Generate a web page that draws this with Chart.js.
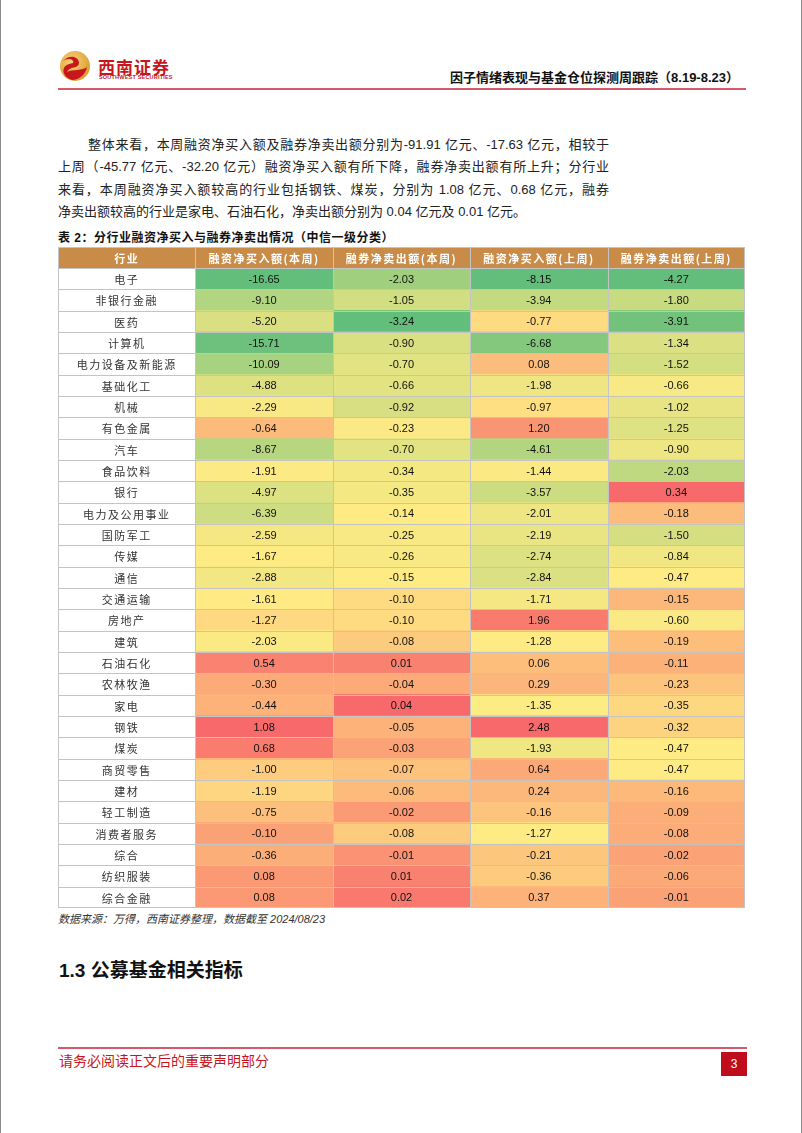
<!DOCTYPE html>
<html lang="zh-CN">
<head>
<meta charset="utf-8">
<title>分行业融资净买入与融券净卖出情况</title>
<script src="https://cdn.jsdelivr.net/npm/chart.js@4.4.1/dist/chart.umd.min.js"></script>
<style>
    html, body { margin: 0; padding: 0; background: #fff; }
    #page {
        position: relative; width: 800px; height: 1133px; overflow: hidden;
        border-left: 1px solid #8a8a8a; border-right: 1px solid #8a8a8a;
        font-family: "Liberation Sans", "Noto Sans CJK SC", sans-serif; color: #222;
    }
    .abs { position: absolute; white-space: nowrap; }
    .para { left: 57px; width: 551px; font-size: 13px; line-height: 22px; }
    .just { text-align: justify; text-align-last: justify; }
</style>
</head>
<body>
<div id="page">
    <!-- logo -->
    <svg class="abs" style="left:58px;top:50px" width="32" height="32" viewBox="0 0 32 32">
        <defs>
            <radialGradient id="gold" cx="40%" cy="35%" r="70%">
                <stop offset="0" stop-color="#f6d27a"/>
                <stop offset="1" stop-color="#d99a2b"/>
            </radialGradient>
        </defs>
        <circle cx="16" cy="16" r="15" fill="url(#gold)"/>
        <path d="M4 11 C10 4, 20 6, 20 13 C20 19, 10 16, 8 22 C13 19, 24 21, 28 17 C27 24, 20 30, 13 30 C6 28, 3 22, 5 18 C8 12, 16 15, 14 11 C12 8, 7 9, 4 11 Z" fill="#c8161d"/>
    </svg>
    <div class="abs" style="left:97px;top:54px;font-size:17px;font-weight:bold;color:#c8161d;letter-spacing:1px;font-family:'Noto Sans CJK SC'">西南证券</div>
    <div class="abs" style="left:98px;top:74px;font-size:5.5px;font-weight:bold;color:#c8161d;letter-spacing:0.2px">SOUTHWEST SECURITIES</div>
    <div class="abs" style="right:62px;top:67px;font-size:13px;font-weight:bold;color:#111">因子情绪表现与基金仓位探测周跟踪（8.19-8.23）</div>
    <div class="abs" style="left:57px;top:88px;width:688px;height:2px;background:#d6596b"></div>

    <!-- paragraph -->
    <div class="abs para just" style="top:134px;left:87px;width:521px">整体来看，本周融资净买入额及融券净卖出额分别为-91.91 亿元、-17.63 亿元，相较于</div>
    <div class="abs para just" style="top:156px">上周（-45.77 亿元、-32.20 亿元）融资净买入额有所下降，融券净卖出额有所上升；分行业</div>
    <div class="abs para just" style="top:179px">来看，本周融资净买入额较高的行业包括钢铁、煤炭，分别为 1.08 亿元、0.68 亿元，融券</div>
    <div class="abs para" style="top:201px">净卖出额较高的行业是家电、石油石化，净卖出额分别为 0.04 亿元及 0.01 亿元。</div>

    <div class="abs" style="left:57px;top:228px;font-size:12px;font-weight:bold;color:#111;letter-spacing:0.5px">表 2：分行业融资净买入与融券净卖出情况（中信一级分类）</div>

    <canvas id="tableChart" class="abs" style="left:57px;top:247px" width="687" height="661"></canvas>

    <div class="abs" style="left:57px;top:910px;font-size:11px;font-style:italic;color:#333">数据来源：万得，西南证券整理，数据截至 2024/08/23</div>

    <div class="abs" style="left:58px;top:955px;font-size:19px;font-weight:bold;color:#111">1.3 公募基金相关指标</div>

    <!-- footer -->
    <div class="abs" style="left:57px;top:1047px;width:689px;height:2px;background:#d6596b"></div>
    <div class="abs" style="left:58px;top:1050px;font-size:14px;color:#c8161d">请务必阅读正文后的重要声明部分</div>
    <div class="abs" style="left:720px;top:1052px;width:26px;height:24px;background:#c00d1e;color:#fff;font-size:12px;line-height:24px;text-align:center">3</div>
</div>

<script>
    // Industries (中信一级) in table order
    const industries = ["电子", "非银行金融", "医药", "计算机", "电力设备及新能源", "基础化工", "机械", "有色金属",
        "汽车", "食品饮料", "银行", "电力及公用事业", "国防军工", "传媒", "通信", "交通运输", "房地产", "建筑",
        "石油石化", "农林牧渔", "家电", "钢铁", "煤炭", "商贸零售", "建材", "轻工制造", "消费者服务", "综合",
        "纺织服装", "综合金融"];

    const columnTitles = ["行业", "融资净买入额(本周)", "融券净卖出额(本周)", "融资净买入额(上周)", "融券净卖出额(上周)"];

    // values in 亿元
    const marginBuyThisWeek = [-16.65, -9.10, -5.20, -15.71, -10.09, -4.88, -2.29, -0.64, -8.67, -1.91, -4.97, -6.39,
        -2.59, -1.67, -2.88, -1.61, -1.27, -2.03, 0.54, -0.30, -0.44, 1.08, 0.68, -1.00, -1.19, -0.75, -0.10, -0.36, 0.08, 0.08];
    const shortSellThisWeek = [-2.03, -1.05, -3.24, -0.90, -0.70, -0.66, -0.92, -0.23, -0.70, -0.34, -0.35, -0.14,
        -0.25, -0.26, -0.15, -0.10, -0.10, -0.08, 0.01, -0.04, 0.04, -0.05, -0.03, -0.07, -0.06, -0.02, -0.08, -0.01, 0.01, 0.02];
    const marginBuyLastWeek = [-8.15, -3.94, -0.77, -6.68, 0.08, -1.98, -0.97, 1.20, -4.61, -1.44, -3.57, -2.01,
        -2.19, -2.74, -2.84, -1.71, 1.96, -1.28, 0.06, 0.29, -1.35, 2.48, -1.93, 0.64, 0.24, -0.16, -1.27, -0.21, -0.36, 0.37];
    const shortSellLastWeek = [-4.27, -1.80, -3.91, -1.34, -1.52, -0.66, -1.02, -1.25, -0.90, -2.03, 0.34, -0.18,
        -1.50, -0.84, -0.47, -0.15, -0.60, -0.19, -0.11, -0.23, -0.35, -0.32, -0.47, -0.47, -0.16, -0.09, -0.08, -0.02, -0.06, -0.01];

    const valueColumns = [marginBuyThisWeek, shortSellThisWeek, marginBuyLastWeek, shortSellLastWeek];

    // Excel-style 3 colour scale: min green, median yellow, max red
    const GREEN = [99, 190, 123], YELLOW = [255, 235, 132], RED = [248, 105, 107];

    function mix(a, b, t) {
        return "rgb(" + a.map((c, i) => Math.round(c + (b[i] - c) * t)).join(",") + ")";
    }

    function median(arr) {
        const s = [...arr].sort((a, b) => a - b);
        const m = s.length / 2;
        return s.length % 2 ? s[Math.floor(m)] : (s[m - 1] + s[m]) / 2;
    }

    function colorsFor(arr) {
        const min = Math.min(...arr), max = Math.max(...arr), mid = median(arr);
        return arr.map((v) => {
            if (v <= mid) return mix(GREEN, YELLOW, mid === min ? 1 : (v - min) / (mid - min));
            return mix(YELLOW, RED, (v - mid) / (max - mid));
        });
    }

    const HEADER_H = 21;

    // header row, grid lines and cell texts
    const tablePlugin = {
        id: "tablePlugin",
        afterDatasetsDraw(chart) {
            const { ctx, chartArea, scales } = chart;
            const xs = scales.x, ys = scales.y;
            const rowH = (chartArea.bottom - chartArea.top) / industries.length;
            const colX = columnTitles.map((_, k) => xs.getPixelForValue(k));
            colX.push(xs.getPixelForValue(columnTitles.length));
            const al = (v) => Math.round(v) + 0.5;

            // header
            ctx.save();
            ctx.fillStyle = "#c98c48";
            ctx.fillRect(chartArea.left, 0, chartArea.right - chartArea.left, chartArea.top);

            // grid
            ctx.strokeStyle = "#c4c4c4";
            ctx.lineWidth = 1;
            ctx.beginPath();
            colX.forEach((x, k) => {
                const px = k === colX.length - 1 ? Math.round(x) - 0.5 : al(x);
                ctx.moveTo(px, 0);
                ctx.lineTo(px, chartArea.bottom);
            });
            ctx.moveTo(chartArea.left, 0.5);
            ctx.lineTo(chartArea.right, 0.5);
            for (let i = 0; i <= industries.length; i++) {
                let y = chartArea.top + i * rowH;
                y = i === industries.length ? Math.round(y) - 0.5 : al(y);
                ctx.moveTo(chartArea.left, y);
                ctx.lineTo(chartArea.right, y);
            }
            ctx.stroke();

            // header titles
            ctx.fillStyle = "#fff";
            ctx.textAlign = "center";
            ctx.textBaseline = "middle";
            ctx.font = "bold 11px 'Noto Sans CJK SC'";
            ctx.letterSpacing = "1.5px";
            columnTitles.forEach((t, k) => {
                ctx.fillText(t, (colX[k] + colX[k + 1]) / 2, chartArea.top / 2 + 1);
            });

            // cell texts
            chart.data.datasets.forEach((ds, di) => {
                const meta = chart.getDatasetMeta(di);
                meta.data.forEach((bar, i) => {
                    const cx = (colX[di] + colX[di + 1]) / 2;
                    const cy = ys.getPixelForValue(i) + 1;
                    if (di === 0) {
                        ctx.fillStyle = "#333";
                        ctx.font = "11px 'Noto Sans CJK SC'";
                        ctx.letterSpacing = "1.5px";
                        ctx.fillText(industries[i], cx, cy);
                    } else {
                        ctx.fillStyle = "#111";
                        ctx.font = "11px 'Liberation Sans'";
                        ctx.letterSpacing = "0px";
                        ctx.fillText(ds.values[i].toFixed(2), cx, cy);
                    }
                });
            });
            ctx.restore();
        },
    };

    const datasets = [{
        label: columnTitles[0],
        data: industries.map(() => [0, 1]),
        values: industries,
        backgroundColor: "#ffffff",
    }];
    valueColumns.forEach((arr, k) => {
        datasets.push({
            label: columnTitles[k + 1],
            data: arr.map(() => [k + 1, k + 2]),
            values: arr,
            backgroundColor: colorsFor(arr),
        });
    });
    datasets.forEach((ds) => {
        ds.grouped = false;
        ds.barPercentage = 1;
        ds.categoryPercentage = 1;
        ds.borderWidth = 0;
    });

    new Chart(document.getElementById("tableChart"), {
        type: "bar",
        data: { labels: industries, datasets: datasets },
        options: {
            indexAxis: "y",
            responsive: false,
            animation: false,
            devicePixelRatio: 1,
            layout: { padding: { top: HEADER_H, left: 0, right: 0, bottom: 0 } },
            plugins: { legend: { display: false }, tooltip: { enabled: false } },
            scales: {
                x: { type: "linear", min: 0, max: columnTitles.length, display: false },
                y: { type: "category", display: false },
            },
        },
        plugins: [tablePlugin],
    });
</script>
</body>
</html>
